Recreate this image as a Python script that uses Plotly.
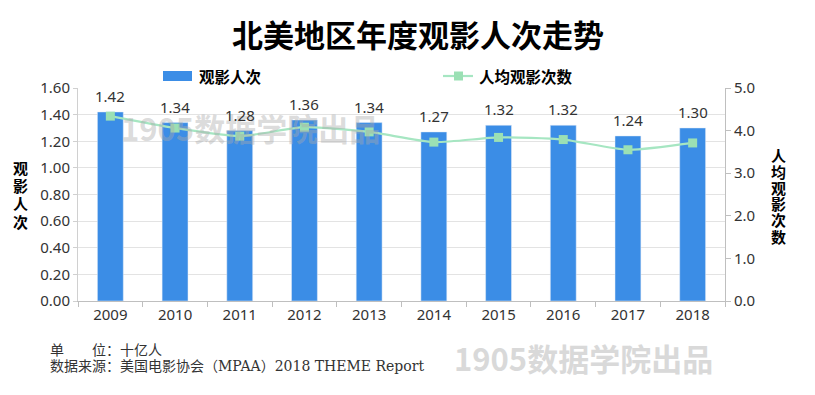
import plotly.graph_objects as go

years = ["2009", "2010", "2011", "2012", "2013", "2014", "2015", "2016", "2017", "2018"]
admissions = [1.42, 1.34, 1.28, 1.36, 1.34, 1.27, 1.32, 1.32, 1.24, 1.30]
per_capita = [4.34, 4.06, 3.87, 4.08, 3.97, 3.73, 3.84, 3.79, 3.55, 3.71]
left_ticks = [0.0, 0.2, 0.4, 0.6, 0.8, 1.0, 1.2, 1.4, 1.6]
right_ticks = [0.0, 1.0, 2.0, 3.0, 4.0, 5.0]

# page body has an 8px margin; figure is sized/offset to land on window pixels
OFF = 8
W, H = 815 - OFF, 395 - OFF
L, R, T, B = 78, 725, 88, 301  # absolute window pixels of plot area
ml, mr, mt, mb = L - OFF, W - (R - OFF), T - OFF, H - (B - OFF)

def px(x):
    return (x - L) / (R - L)
def py(y):
    return (B - y) / (B - T)

BAR = "#3b8de6"
LINE = "#a6e6c2"
MARK = "#9be0b4"
SANS = "Noto Sans, Noto Sans CJK SC, sans-serif"
CJK = "Noto Sans CJK SC, sans-serif"

fig = go.Figure()
fig.add_trace(go.Bar(
    x=years, y=admissions, name="观影人次", marker_color=BAR, width=0.4,
    showlegend=False,
))
fig.add_trace(go.Scatter(
    x=years, y=per_capita, name="人均观影次数", yaxis="y2", mode="lines+markers",
    line=dict(color=LINE, width=2.2, shape="spline", smoothing=0.6),
    marker=dict(symbol="square", size=9, color=MARK), showlegend=False,
))

fig.update_layout(
    width=W, height=H, margin=dict(l=ml, r=mr, t=mt, b=mb, pad=0),
    paper_bgcolor="white", plot_bgcolor="white",
    xaxis=dict(
        type="category", categoryorder="array", categoryarray=years,
        range=[-0.5, len(years) - 0.5],
        showline=True, linecolor="#bfbfbf", linewidth=1,
        ticks="outside", ticklen=5, tickcolor="#bfbfbf", tickson="boundaries",
        tickfont=dict(family=SANS, size=15, color="#333333"), showgrid=False,
    ),
    yaxis=dict(
        range=[0, 1.6], tickvals=left_ticks, ticktext=[f"{v:.2f}" for v in left_ticks],
        showgrid=True, gridcolor="#e3e3e3", gridwidth=1,
        showline=True, linecolor="#d0d0d0", ticks="outside", ticklen=4, tickcolor="#d0d0d0",
        tickfont=dict(family=SANS, size=15, color="#333333"), zeroline=False,
    ),
    yaxis2=dict(
        range=[0, 5], tickvals=right_ticks, ticktext=[f"{v:.1f}" for v in right_ticks],
        overlaying="y", side="right", showgrid=False,
        showline=True, linecolor="#bfbfbf", ticks="outside", ticklen=5, tickcolor="#bfbfbf",
        tickfont=dict(family=SANS, size=15, color="#333333"), zeroline=False,
    ),
)

def A(x, y, text, size, color="#000000", weight="bold", family=CJK, xanchor="center"):
    return dict(x=px(x), y=py(y), xref="paper", yref="paper", text=text, showarrow=False,
                xanchor=xanchor, yanchor="middle",
                font=dict(family=family, size=size, color=color, weight=weight))

ann = []
# watermark first so labels draw above it
ann.append(A(250, 127, "1905数据学院出品", 31, color="rgba(170,170,170,0.42)"))
# bar value labels (category index on the x axis)
for i, v in enumerate(admissions):
    ann.append(dict(x=i, y=v, xref="x", yref="y", text=f"{v:.2f}", showarrow=False,
                    xanchor="center", yanchor="middle", yshift=16,
                    font=dict(family=SANS, size=15, color="#333333")))
ann.append(A(418, 34, "北美地区年度观影人次走势", 31))
shapes = [
    dict(type="rect", xref="paper", yref="paper", x0=px(163), x1=px(192), y0=py(81), y1=py(71),
         fillcolor=BAR, line=dict(width=0)),
    dict(type="line", xref="paper", yref="paper", x0=px(443), x1=px(473), y0=py(76), y1=py(76),
         line=dict(color=LINE, width=2.2)),
    dict(type="rect", xref="paper", yref="paper", x0=px(454), x1=px(463), y0=py(80.5), y1=py(71.5),
         fillcolor=MARK, line=dict(width=0)),
]
ann.append(A(197, 76, "观影人次", 15.5, xanchor="left"))
ann.append(A(477, 76, "人均观影次数", 15.5, xanchor="left"))
for i, ch in enumerate("观影人次"):
    ann.append(A(20, 167 + 18 * i, ch, 15))
for i, ch in enumerate("人均观影次数"):
    ann.append(A(778, 155 + 16.2 * i, ch, 15))
ann.append(A(583, 357, "1905数据学院出品", 31, color="#d9d9d9"))
SERIF = "DejaVu Serif, Noto Sans CJK SC, serif"
ann.append(A(48, 350, "单　　位：十亿人", 14, color="#333333", weight="normal", family=SERIF, xanchor="left"))
ann.append(A(48, 366, "数据来源：美国电影协会（MPAA）2018 THEME Report", 14, color="#333333",
             weight="normal", family=SERIF, xanchor="left"))

fig.update_layout(annotations=ann, shapes=shapes)
fig.write_html("out.html")
